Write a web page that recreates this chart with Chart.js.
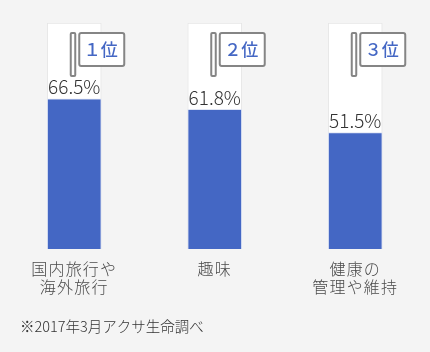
<!DOCTYPE html>
<html>
<head>
<meta charset="utf-8">
<script src="https://cdn.jsdelivr.net/npm/chart.js@4.4.1/dist/chart.umd.min.js"></script>
<style>
html,body{margin:0;padding:0;background:#f4f4f4;}
#wrap{width:430px;height:352px;position:relative;}
</style>
</head>
<body>
<div id="wrap"><canvas id="c"></canvas></div>
<script>
const categories = [["国内旅行や","海外旅行"], ["趣味"], ["健康の","管理や維持"]];
const values = [66.5, 61.8, 51.5];
const fullValues = [100, 100, 100];
const ranks = ["１位", "２位", "３位"];
const footnote = "※2017年3月アクサ生命調べ";

const FONT = '"Noto Sans CJK JP", "Noto Sans", sans-serif';
const BLUE = '#4467c4';

const overlay = {
  id: 'overlay',
  beforeDraw(chart) {
    chart.ctx.letterSpacing = '1.2px';
  },
  afterDatasetsDraw(chart) {
    const ctx = chart.ctx;
    const meta = chart.getDatasetMeta(0);
    const top = chart.chartArea.top;
    ctx.save();
    ctx.letterSpacing = '0px';
    meta.data.forEach((bar, i) => {
      const cx = bar.x;
      // percentage label
      ctx.fillStyle = '#333';
      ctx.font = '300 19px ' + FONT;
      ctx.textAlign = 'center';
      ctx.textBaseline = 'middle';
      ctx.fillText(values[i].toFixed(1) + '%', cx, bar.y - 12);
      // flag pole
      ctx.lineWidth = 2;
      ctx.strokeStyle = '#858585';
      ctx.fillStyle = '#ffffff';
      const px = cx - 4.5, pw = 6.5, py = top + 9, ph = 45;
      ctx.beginPath();
      ctx.roundRect(px + 1, py + 1, pw - 2, ph - 2, 1);
      ctx.fill(); ctx.stroke();
      // flag box
      const bx = cx + 4, bw = 47, by = top + 9, bh = 35;
      ctx.beginPath();
      ctx.roundRect(bx + 1, by + 1, bw - 2, bh - 2, 2);
      ctx.fill(); ctx.stroke();
      ctx.fillStyle = BLUE;
      ctx.font = '500 17px ' + FONT;
      ctx.fillText(ranks[i], bx + bw / 2 - 1, by + bh / 2 + 0.5);
    });
    // footnote
    ctx.fillStyle = '#333';
    ctx.font = '300 14.5px ' + FONT;
    ctx.textAlign = 'left';
    ctx.textBaseline = 'middle';
    ctx.fillText(footnote, 20, 326);
    ctx.restore();
    ctx.letterSpacing = '1.2px';
  }
};

new Chart(document.getElementById('c'), {
  type: 'bar',
  data: {
    labels: categories,
    datasets: [
      { data: values, backgroundColor: BLUE, borderColor: '#dde3f3', borderWidth: 1, barThickness: 54, order: 0 },
      { data: fullValues, backgroundColor: '#ffffff', borderColor: '#e6e6e6', borderWidth: 1, barThickness: 54, order: 1 }
    ]
  },
  options: {
    responsive: true,
    maintainAspectRatio: false,
    animation: false,
    events: [],
    datasets: { bar: { grouped: false } },
    layout: { padding: { top: 23, left: 4, right: 4.5, bottom: 0 } },
    plugins: { legend: { display: false }, tooltip: { enabled: false } },
    scales: {
      y: { display: false, min: 0, max: 100 },
      x: {
        grid: { display: false, drawTicks: false },
        border: { display: false },
        afterFit(s) { s.height = 103; },
        ticks: {
          padding: 11,
          color: '#4a4a4a',
          maxRotation: 0,
          autoSkip: false,
          font: { family: FONT, size: 16, weight: '300', lineHeight: '18px' }
        }
      }
    }
  },
  plugins: [overlay]
});
</script>
</body>
</html>
